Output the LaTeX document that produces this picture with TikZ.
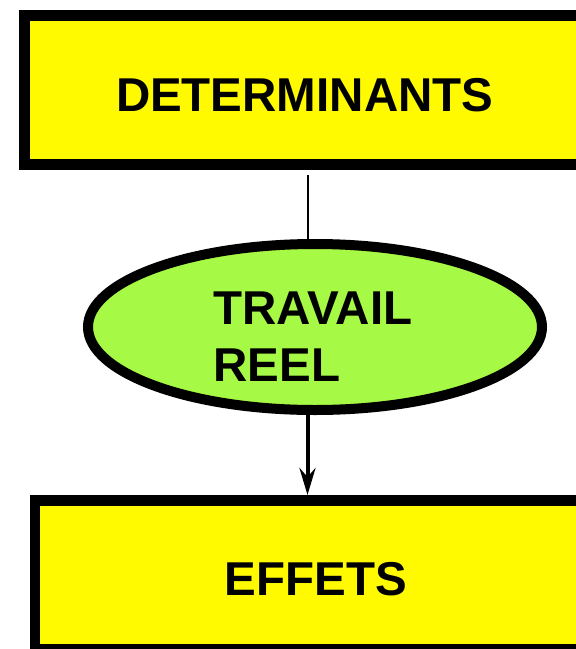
\documentclass[tikz,border=0pt]{standalone}
\usepackage{fontspec}
\setmainfont{Liberation Sans}
\usetikzlibrary{shapes.geometric,arrows.meta}
\definecolor{boxyellow}{RGB}{255,250,0}
\definecolor{ellgreen}{RGB}{166,249,68}
\tikzset{
  ybox/.style={draw=black, fill=boxyellow, line width=10.5pt, rectangle, inner sep=0pt, outer sep=0pt},
  gell/.style={draw=black, fill=ellgreen, line width=10pt, ellipse, inner sep=0pt, outer sep=0pt},
  lbl/.style={inner sep=0pt, outer sep=0pt, anchor=base west, font=\fontsize{47.5}{57.7}\selectfont\bfseries},
  conn/.style={draw=black, line width=2pt},
  arr/.style={draw=black, line width=4pt, -{Stealth[length=27pt,width=16pt,inset=9pt]}}
}
\begin{document}
\begin{tikzpicture}[x=1pt,y=-1pt]
\useasboundingbox (0,0) rectangle (576,649);
\clip (0,0) rectangle (576,649);
% top box
\node[ybox, minimum width=557pt, minimum height=149pt] (det) at (303,90) {};
\node[lbl] (dett) at (116,111.7) {DETERMINANTS};
% ellipse
\node[gell, minimum width=454pt, minimum height=166pt] (ell) at (315,327) {};
\node[lbl, align=left] (ellt) at (213.5,381.7) {TRAVAIL\\REEL};
% bottom box
\node[ybox, minimum width=558pt, minimum height=149pt] (eff) at (314,575) {};
\node[lbl] (efft) at (224.6,595) {EFFETS};
% connectors
\coordinate (cx) at (307.5,0);
\draw[conn, shorten <=10.5pt, shorten >=5pt] (det.south -| cx) -- (ell.north -| cx);
\draw[arr, shorten <=5pt, shorten >=5.5pt] (ell.south -| cx) -- (eff.north -| cx);
\end{tikzpicture}
\end{document}
